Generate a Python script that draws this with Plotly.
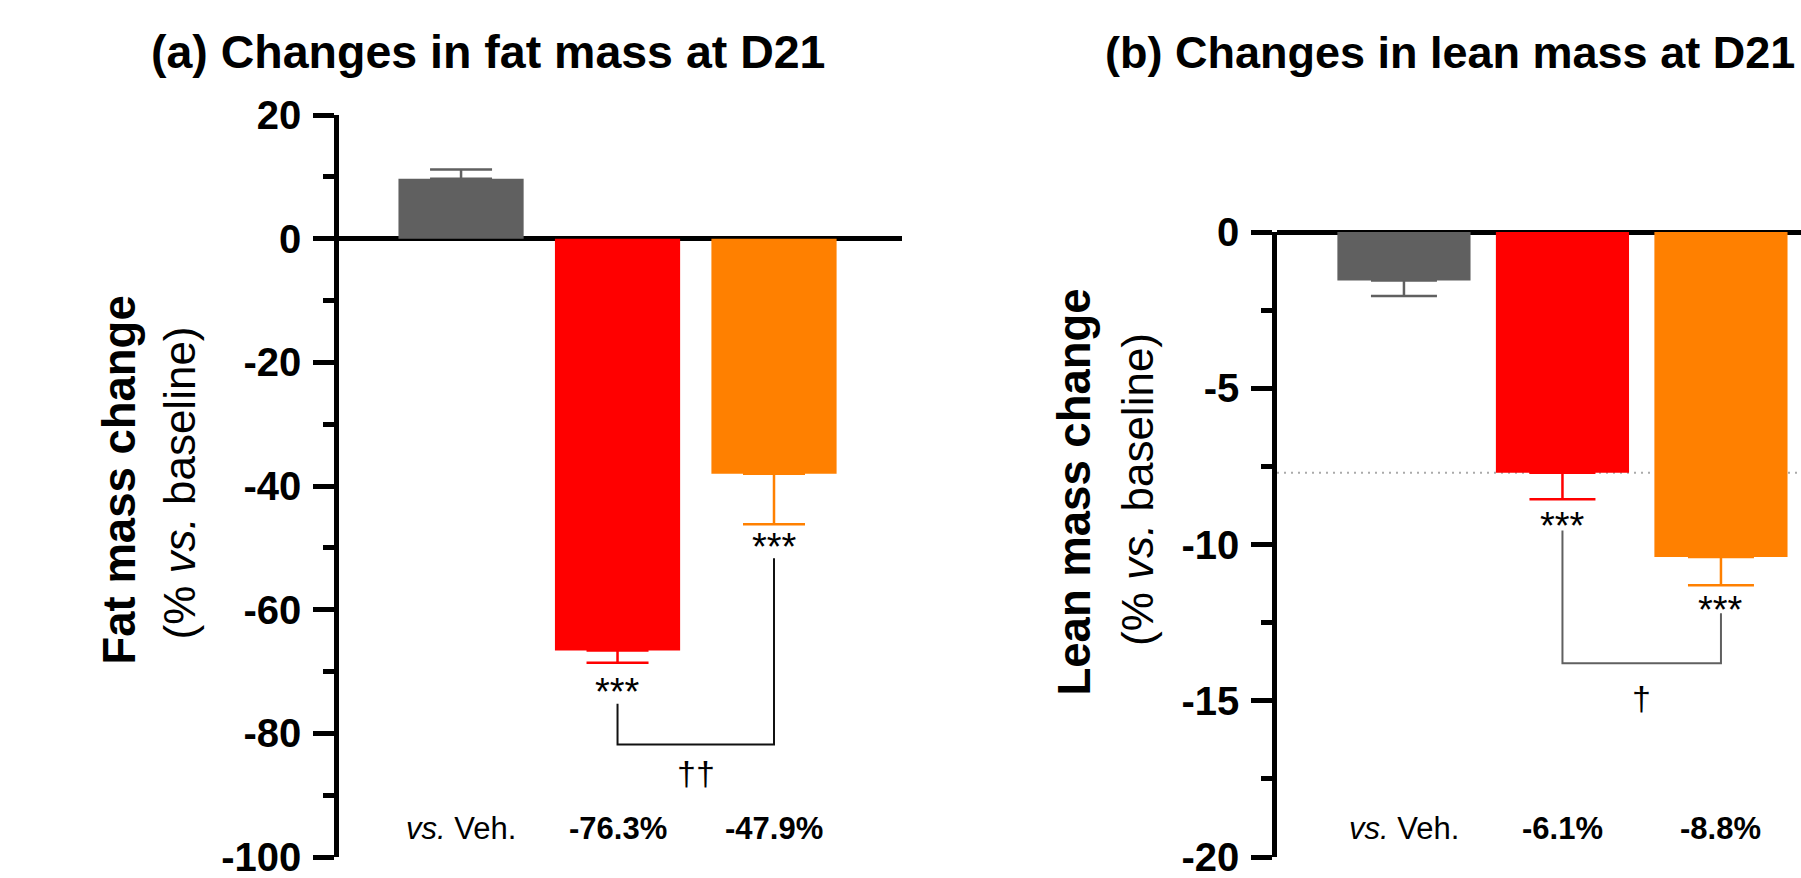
import plotly.graph_objects as go

# ---------------- data ----------------
groups = ["Vehicle", "Treatment 1", "Treatment 2"]
bar_colors = ["#606060", "#FF0000", "#FF8000"]

fat_values = [9.7, -66.6, -38.0]
fat_errors = [1.5, 2.0, 8.2]
lean_values = [-1.55, -7.7, -10.4]
lean_errors = [0.5, 0.85, 0.9]

fat_ticks = [20, 0, -20, -40, -60, -80, -100]
fat_ticklabels = ["20", "0", "-20", "-40", "-60", "-80", "-100"]
lean_ticks = [0, -5, -10, -15, -20]
lean_ticklabels = ["0", "-5", "-10", "-15", "-20"]

stars_text = ["", "***", "***"]
fat_star_y = [None, -73.3, -49.8]
lean_star_y = [None, -9.4, -12.1]

fat_pct_vs_veh = ["<i>vs.</i> Veh.", "-76.3%", "-47.9%"]
lean_pct_vs_veh = ["<i>vs.</i> Veh.", "-6.1%", "-8.8%"]
fat_pct_y = -95.4
lean_pct_y = -19.1

# bracket levels: [left top, bottom, right top]
fat_bracket = [-75.2, -81.8, -51.7]
lean_bracket = [-9.55, -13.8, -12.2]
fat_dagger = ["††", -86.4]
lean_dagger = ["†", -14.9]

W, H = 1801, 878
def px(x):
    return x / W
def py(y):
    return 1 - y / H

ARIAL = "Liberation Sans, Arial, Helvetica, sans-serif"

fig = go.Figure()

xs = list(range(len(groups)))

def add_bars(values, errors, xa, ya, width, capw):
    for i, (v, e, c) in enumerate(zip(values, errors, bar_colors)):
        plus = e if v >= 0 else 0
        minus = e if v < 0 else 0
        fig.add_trace(go.Bar(
            x=[xs[i]], y=[v], width=[width], marker=dict(color=c, line=dict(width=0)),
            error_y=dict(type="data", symmetric=False, array=[plus], arrayminus=[minus],
                         color=c, thickness=2.5, width=capw),
            xaxis=xa, yaxis=ya, showlegend=False, hoverinfo="skip"))

add_bars(fat_values, fat_errors, "x", "y", 0.8, 31)
add_bars(lean_values, lean_errors, "x2", "y2", 0.84, 33)

# brackets
fig.add_trace(go.Scatter(x=[xs[1], xs[1], xs[2], xs[2]],
                         y=[fat_bracket[0], fat_bracket[1], fat_bracket[1], fat_bracket[2]],
                         mode="lines", line=dict(color="#111111", width=2),
                         xaxis="x", yaxis="y", showlegend=False, hoverinfo="skip"))
fig.add_trace(go.Scatter(x=[xs[1], xs[1], xs[2], xs[2]],
                         y=[lean_bracket[0], lean_bracket[1], lean_bracket[1], lean_bracket[2]],
                         mode="lines", line=dict(color="#606060", width=2),
                         xaxis="x2", yaxis="y2", showlegend=False, hoverinfo="skip"))

# dotted reference line in panel b at the level of the second bar
fig.add_shape(type="line", xref="x2 domain", yref="y2", x0=0, x1=1,
              y0=lean_values[1], y1=lean_values[1],
              line=dict(color="#AAAAAA", width=2, dash="2px,5px"), layer="below")

ann = []
# stars
for i in range(1, 3):
    ann.append(dict(x=xs[i], y=fat_star_y[i], xref="x", yref="y", text=stars_text[i],
                    showarrow=False, font=dict(family=ARIAL, size=38, color="black")))
    ann.append(dict(x=xs[i], y=lean_star_y[i], xref="x2", yref="y2", text=stars_text[i],
                    showarrow=False, font=dict(family=ARIAL, size=38, color="black")))
# daggers
ann.append(dict(x=(xs[1] + xs[2]) / 2, y=fat_dagger[1], xref="x", yref="y", text=fat_dagger[0],
                showarrow=False, font=dict(family=ARIAL, size=34, color="black")))
ann.append(dict(x=(xs[1] + xs[2]) / 2, y=lean_dagger[1], xref="x2", yref="y2", text=lean_dagger[0],
                showarrow=False, font=dict(family=ARIAL, size=34, color="black")))
# % vs vehicle
for i in range(3):
    wt = "normal" if i == 0 else "bold"
    ann.append(dict(x=xs[i], y=fat_pct_y, xref="x", yref="y", text=fat_pct_vs_veh[i],
                    showarrow=False, font=dict(family=ARIAL, size=31, color="black", weight=wt)))
    ann.append(dict(x=xs[i], y=lean_pct_y, xref="x2", yref="y2", text=lean_pct_vs_veh[i],
                    showarrow=False, font=dict(family=ARIAL, size=31, color="black", weight=wt)))

# panel titles
ann.append(dict(x=px(488), y=py(52), xref="paper", yref="paper", xanchor="center", yanchor="middle",
                text="(a) Changes in fat mass at D21", showarrow=False,
                font=dict(family=ARIAL, size=46.5, color="black", weight="bold")))
ann.append(dict(x=px(1103), y=py(52), xref="paper", yref="paper", xanchor="left", yanchor="middle",
                text="(b) Changes in lean mass at D21", showarrow=False,
                font=dict(family=ARIAL, size=45, color="black", weight="bold")))

# y-axis titles
ann.append(dict(x=px(118.5), y=py(480), xref="paper", yref="paper", xanchor="center", yanchor="middle",
                text="Fat mass change", textangle=-90, showarrow=False,
                font=dict(family=ARIAL, size=45.5, color="black", weight="bold")))
ann.append(dict(x=px(179.5), y=py(483), xref="paper", yref="paper", xanchor="center", yanchor="middle",
                text="(% <i>vs.</i> baseline)", textangle=-90, showarrow=False,
                font=dict(family=ARIAL, size=44, color="black")))
ann.append(dict(x=px(1073.5), y=py(492), xref="paper", yref="paper", xanchor="center", yanchor="middle",
                text="Lean mass change", textangle=-90, showarrow=False,
                font=dict(family=ARIAL, size=45.5, color="black", weight="bold")))
ann.append(dict(x=px(1137), y=py(490), xref="paper", yref="paper", xanchor="center", yanchor="middle",
                text="(% <i>vs.</i> baseline)", textangle=-90, showarrow=False,
                font=dict(family=ARIAL, size=44, color="black")))

xaxis_common = dict(showticklabels=False, showline=False, ticks="", showgrid=False,
                    zeroline=False, fixedrange=True, automargin=False)
yaxis_common = dict(showline=True, linecolor="black", linewidth=4.5, ticks="outside",
                    ticklen=21, tickwidth=4.5, tickcolor="black", showgrid=False,
                    zeroline=True, zerolinecolor="black", zerolinewidth=5,
                    tickfont=dict(family=ARIAL, size=40, color="black", weight="bold"),
                    ticklabelstandoff=4, ticklabeloverflow="allow", automargin=False,
                    layer="above traces")

fig.update_layout(
    width=W, height=H, autosize=False,
    margin=dict(l=0, r=0, t=0, b=0, pad=0, autoexpand=False),
    paper_bgcolor="white", plot_bgcolor="white",
    barmode="overlay", showlegend=False,
    xaxis=dict(domain=[px(339), px(902)], range=[-0.78, 2.818], anchor="y", **xaxis_common),
    yaxis=dict(domain=[py(857), py(115)], range=[-100, 20], anchor="x",
               tickvals=fat_ticks, ticktext=fat_ticklabels,
               minor=dict(ticks="outside", ticklen=11, tickwidth=4.5, tickcolor="black",
                          dtick=10, tick0=0, showgrid=False),
               **yaxis_common),
    xaxis2=dict(domain=[px(1277), 1.0], range=[-0.801, 2.505], anchor="y2", **xaxis_common),
    yaxis2=dict(domain=[py(857), py(232)], range=[-20, 0], anchor="x2",
                tickvals=lean_ticks, ticktext=lean_ticklabels,
                minor=dict(ticks="outside", ticklen=11, tickwidth=4.5, tickcolor="black",
                           dtick=2.5, tick0=0, showgrid=False),
                **yaxis_common),
    annotations=ann,
)

fig.write_html("out.html")
